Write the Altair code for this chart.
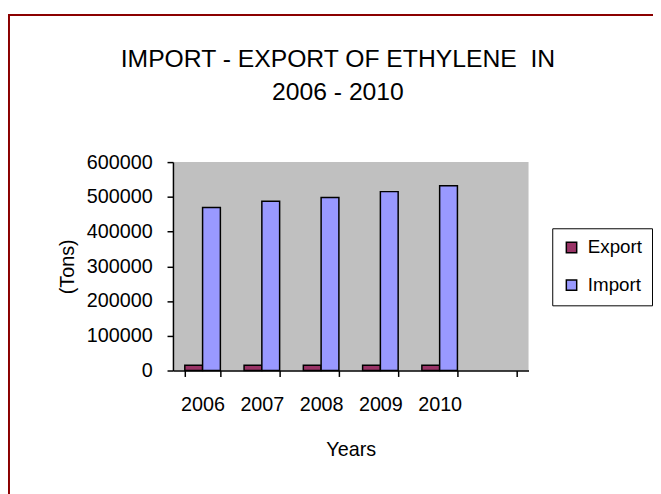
import altair as alt
import pandas as pd

years = ["2006", "2007", "2008", "2009", "2010"]
export_vals = [15000, 15000, 15000, 15000, 15000]
import_vals = [469000, 487000, 498000, 515000, 532000]
series = ["Export", "Import"]
colors = ["#993366", "#9999FF"]
x_domain = years + [" "]
y_ticks = [0, 100000, 200000, 300000, 400000, 500000, 600000]

rows = []
for i, y in enumerate(years):
    rows.append({"Year": y, "Series": "Export", "Value": export_vals[i]})
    rows.append({"Year": y, "Series": "Import", "Value": import_vals[i]})
df = pd.DataFrame(rows)

FONT = "Liberation Sans"

frame = alt.Chart(pd.DataFrame({"a": [0]})).mark_rect(
    fill="white", fillOpacity=0, stroke="#8B0000", strokeWidth=2
).encode(
    x=alt.value(-166), x2=alt.value(700),
    y=alt.value(-149), y2=alt.value(700),
)

bars = alt.Chart(df).mark_bar(stroke="black", strokeWidth=1.5).encode(
    x=alt.X("Year:N", scale=alt.Scale(domain=x_domain, paddingInner=0.4, paddingOuter=0.2),
            axis=alt.Axis(title="Years", labelAngle=0, tickBand="extent", tickSize=6,
                          labelPadding=18, titlePadding=26, domainColor="black",
                          tickColor="black", domainWidth=1.5, tickWidth=1.5,
                          labelFontSize=20, titleFontSize=20, titleFontWeight="normal",
                          labelFont=FONT, titleFont=FONT, labelColor="black", titleColor="black")),
    xOffset=alt.XOffset("Series:N", sort=series),
    y=alt.Y("Value:Q", scale=alt.Scale(domain=[0, 600000], nice=False),
            axis=alt.Axis(title="(Tons)", values=y_ticks, format="d", grid=False, tickSize=6,
                          labelPadding=15, titlePadding=9, domainColor="black", tickColor="black",
                          domainWidth=1.5, tickWidth=1.5,
                          labelFontSize=20, titleFontSize=20, titleFontWeight="normal",
                          labelFont=FONT, titleFont=FONT, labelColor="black", titleColor="black")),
    color=alt.Color("Series:N", scale=alt.Scale(domain=series, range=colors),
                    legend=alt.Legend(title=None, orient="none", legendX=384, legendY=67,
                                      strokeColor="black", padding=10,
                                      symbolType="square", symbolSize=110,
                                      symbolStrokeColor="black", symbolStrokeWidth=1.5,
                                      labelFontSize=19, labelFont=FONT, labelColor="black",
                                      rowPadding=18, labelOffset=7)),
)

chart = alt.layer(frame, bars).properties(
    width=360, height=211,
    background="white",
    autosize=alt.AutoSizeParams(type="none"),
    padding={"left": 167, "top": 153, "right": 126, "bottom": 122},
    title=alt.Title(["IMPORT - EXPORT OF ETHYLENE\u00a0\u00a0IN", "2006 - 2010"],
                    fontSize=25, font=FONT, fontWeight="normal", color="black",
                    anchor="middle", dx=-13, offset=0, dy=92, lineHeight=33),
).configure_view(fill="#C0C0C0", stroke="transparent", strokeWidth=0)

chart.save("out.html", embed_options={"renderer": "svg", "actions": False})
